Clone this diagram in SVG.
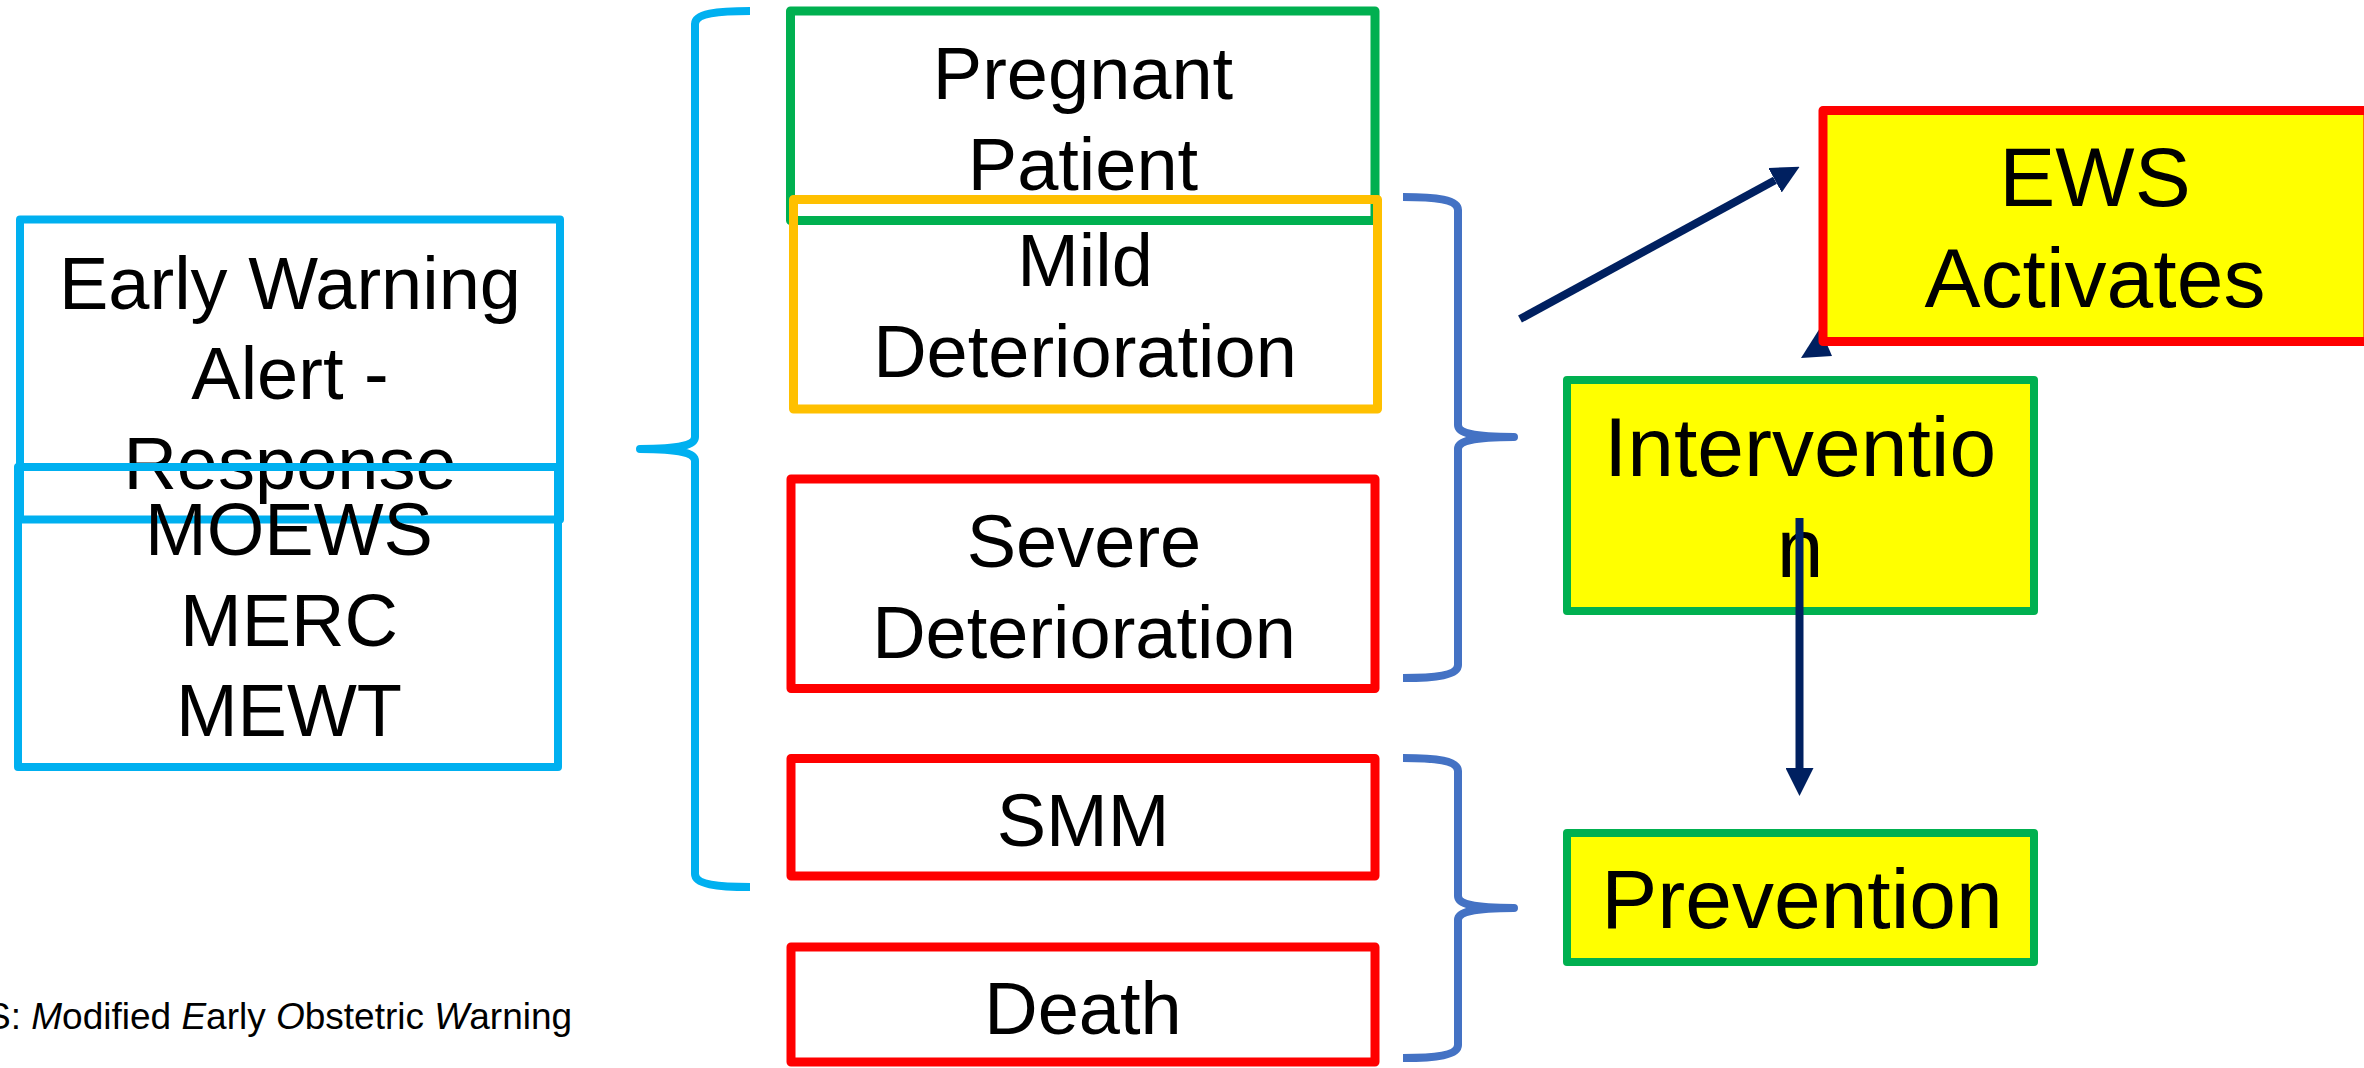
<svg xmlns="http://www.w3.org/2000/svg" width="2364" height="1068" viewBox="0 0 2364 1068">
  <defs>
    <style>
      .box { fill: none; stroke-linejoin: round; }
      .cyan { stroke: #00B0F0; stroke-width: 8; }
      .green { stroke: #00B050; stroke-width: 9; }
      .green8 { stroke: #00B050; stroke-width: 8; }
      .orange { stroke: #FFC000; stroke-width: 9; }
      .red { stroke: #FF0000; stroke-width: 9; }
      .hot { fill: #FFFF00; }
      .lbl { font-family: "Liberation Sans", Arial, sans-serif; font-size: 74px; fill: #000; text-anchor: middle; }
      .big { font-size: 84px; }
      .note { font-family: "Liberation Sans", Arial, sans-serif; font-size: 37px; fill: #000; }
      .brace { fill: none; stroke-width: 8; stroke-linecap: butt; stroke-linejoin: round; }
      .conn { stroke: #002060; stroke-width: 8; fill: none; }
    </style>
    <marker id="head" markerUnits="userSpaceOnUse" markerWidth="28" markerHeight="28" refX="0" refY="14" orient="auto">
      <path d="M0,0 L28,14 L0,28 Z" fill="#002060"/>
    </marker>
  </defs>

  <!-- left column: alert / response tools -->
  <g id="node-early-warning">
    <rect class="box cyan" x="20" y="219.5" width="540" height="300"/>
    <text class="lbl" x="290" y="309">Early Warning</text>
    <text class="lbl" x="290" y="399">Alert -</text>
    <text class="lbl" x="290" y="489">Response</text>
  </g>
  <g id="node-tools">
    <rect class="box cyan" x="18" y="467" width="540" height="300"/>
    <text class="lbl" x="289" y="555">MOEWS</text>
    <text class="lbl" x="289" y="646">MERC</text>
    <text class="lbl" x="289" y="736">MEWT</text>
  </g>

  <!-- middle column: patient states -->
  <g id="node-pregnant">
    <rect class="box green" x="790.5" y="11" width="584.5" height="209.5"/>
    <text class="lbl" x="1083" y="99">Pregnant</text>
    <text class="lbl" x="1083" y="190">Patient</text>
  </g>
  <g id="node-mild">
    <rect class="box orange" x="793.5" y="199.5" width="584" height="209.5"/>
    <text class="lbl" x="1085" y="286">Mild</text>
    <text class="lbl" x="1085" y="377">Deterioration</text>
  </g>
  <g id="node-severe">
    <rect class="box red" x="791" y="479" width="584" height="209.5"/>
    <text class="lbl" x="1084" y="567">Severe</text>
    <text class="lbl" x="1084" y="658">Deterioration</text>
  </g>
  <g id="node-smm">
    <rect class="box red" x="791" y="758.5" width="584" height="117.5"/>
    <text class="lbl" x="1083" y="846">SMM</text>
  </g>
  <g id="node-death">
    <rect class="box red" x="791" y="947" width="584" height="115"/>
    <text class="lbl" x="1083" y="1034">Death</text>
  </g>

  <!-- grouping braces -->
  <g id="braces">
    <path class="brace" stroke="#00B0F0" d="M750,11 C716,11 695,14 695,24 L695,437 C695,445 680,449 640,449 C680,449 695,453 695,461 L695,874 C695,884 716,887 750,887"/>
    <path class="brace" stroke="#4472C4" d="M1403,197 C1437,197 1458,200 1458,210 L1458,425 C1458,433 1473,437 1514,437 C1473,437 1458,441 1458,449 L1458,665 C1458,675 1437,678 1403,678"/>
    <path class="brace" stroke="#4472C4" d="M1403,758 C1437,758 1458,761 1458,771 L1458,896 C1458,904 1473,908 1514,908 C1473,908 1458,912 1458,920 L1458,1045 C1458,1055 1437,1058 1403,1058"/>
  </g>

  <!-- right column: responses -->
  <g id="node-intervention">
    <rect class="box hot green8" x="1567" y="380" width="467" height="231"/>
    <text class="lbl big" x="1800" y="476">Interventio</text>
    <text class="lbl big" x="1800" y="577">n</text>
  </g>
  <g id="node-prevention">
    <rect class="box hot green8" x="1567" y="833" width="467" height="129"/>
    <text class="lbl big" x="1802" y="928">Prevention</text>
  </g>

  <!-- arrows -->
  <g id="connectors">
    <line class="conn" x1="1520" y1="319" x2="1775" y2="180.2" marker-end="url(#head)"/>
    <line class="conn" x1="1799.5" y1="518" x2="1799.5" y2="768" marker-end="url(#head)"/>
    <polygon points="1801,358 1820,328 1832,356" fill="#002060"/>
  </g>

  <g id="node-ews">
    <rect class="box hot red" x="1823" y="110.5" width="545" height="231"/>
    <text class="lbl big" x="2095" y="206">EWS</text>
    <text class="lbl big" x="2095" y="307">Activates</text>
  </g>

  <!-- footnote -->
  <text class="note" x="-14" y="1029">S: <tspan font-style="italic">M</tspan>odified <tspan font-style="italic">E</tspan>arly <tspan font-style="italic">O</tspan>bstetric <tspan font-style="italic">W</tspan>arning</text>
</svg>
